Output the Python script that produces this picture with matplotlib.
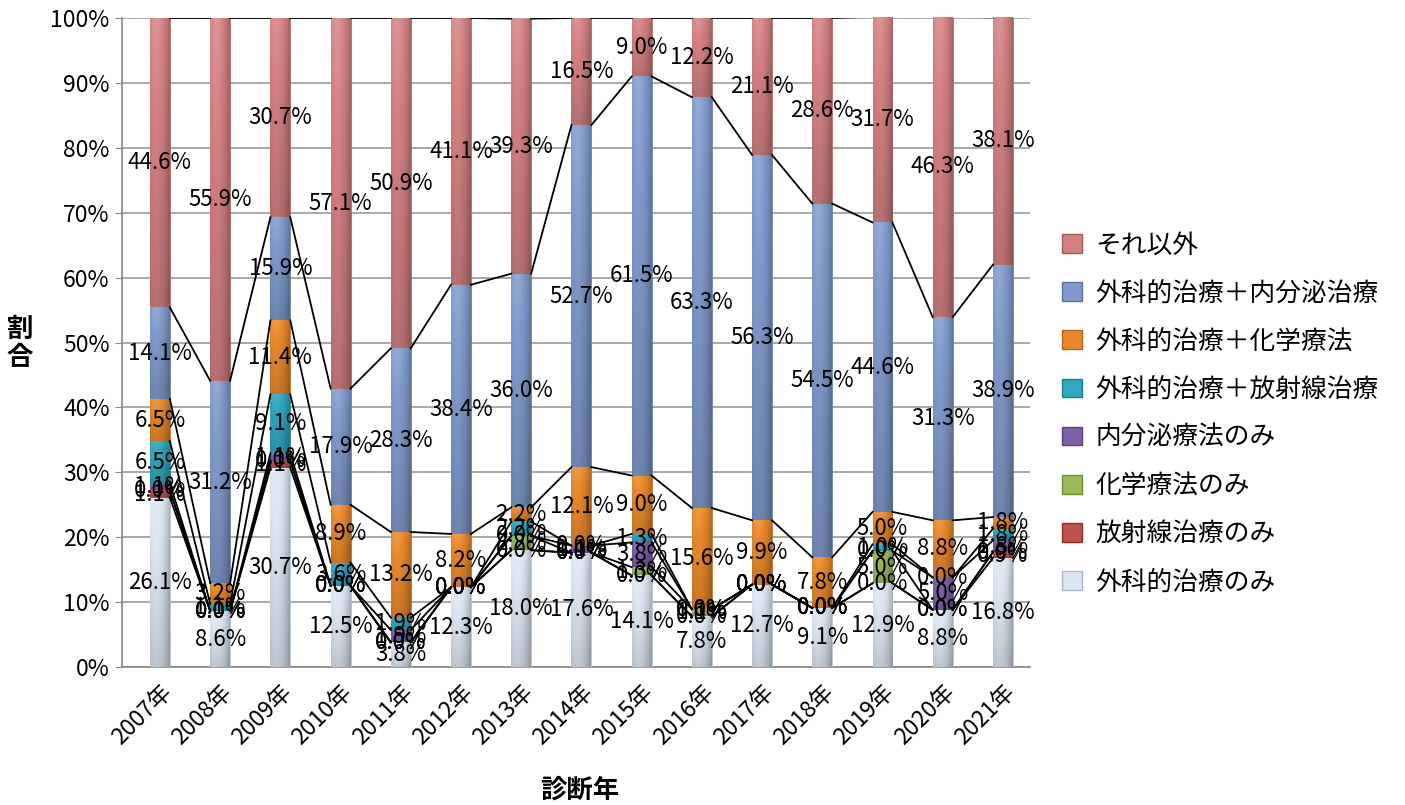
import numpy as np
import matplotlib
matplotlib.use("Agg")
import matplotlib.pyplot as plt
from matplotlib.patches import Patch
from matplotlib.colors import to_rgb

plt.rcParams['font.family'] = ['Noto Sans CJK JP', 'DejaVu Sans']

years = ["2007年", "2008年", "2009年", "2010年", "2011年", "2012年", "2013年", "2014年",
         "2015年", "2016年", "2017年", "2018年", "2019年", "2020年", "2021年"]

series_names = ["外科的治療のみ", "放射線治療のみ", "化学療法のみ", "内分泌療法のみ",
                "外科的治療＋放射線治療", "外科的治療＋化学療法", "外科的治療＋内分泌治療", "それ以外"]

surgery_only = [26.1, 8.6, 30.7, 12.5, 3.8, 12.3, 18.0, 17.6, 14.1, 7.8, 12.7, 9.1, 12.9, 8.8, 16.8]
radiation_only = [1.1, 0.0, 1.1, 0.0, 0.0, 0.0, 0.0, 0.0, 0.0, 0.0, 0.0, 0.0, 0.0, 0.0, 0.9]
chemo_only = [0.0, 0.0, 0.0, 0.0, 0.0, 0.0, 2.2, 0.0, 1.3, 1.1, 0.0, 0.0, 5.0, 0.0, 0.0]
endocrine_only = [1.1, 0.0, 1.1, 0.0, 1.9, 0.0, 0.0, 1.1, 3.8, 0.0, 0.0, 0.0, 0.0, 5.0, 1.8]
surg_radiation = [6.5, 1.1, 9.1, 3.6, 1.9, 0.0, 2.2, 0.0, 1.3, 0.0, 0.0, 0.0, 1.0, 0.0, 1.8]
surg_chemo = [6.5, 3.2, 11.4, 8.9, 13.2, 8.2, 2.2, 12.1, 9.0, 15.6, 9.9, 7.8, 5.0, 8.8, 1.8]
surg_endocrine = [14.1, 31.2, 15.9, 17.9, 28.3, 38.4, 36.0, 52.7, 61.5, 63.3, 56.3, 54.5, 44.6, 31.3, 38.9]
others = [44.6, 55.9, 30.7, 57.1, 50.9, 41.1, 39.3, 16.5, 9.0, 12.2, 21.1, 28.6, 31.7, 46.3, 38.1]

data = [surgery_only, radiation_only, chemo_only, endocrine_only,
        surg_radiation, surg_chemo, surg_endocrine, others]
colors = ["#DCE6F2", "#C0504D", "#9BBB59", "#7E5FA8", "#2FA7BF", "#E8892B", "#7F9ACB", "#D48181"]
edge_colors = ["#A9B6C8", "#8E2F2C", "#6E8A35", "#5A3F80", "#1E7C8E", "#B5611A", "#5A72A0", "#A55A5A"]

fig = plt.figure(figsize=(14.05, 8.05), dpi=100)
ax = fig.add_axes([122/1405, 1-667/805, (1030-122)/1405, (667-18)/805])

x = np.arange(len(years))
width = 0.33

# shading grid for a cylinder-like look
hh = np.linspace(0, 1, 24)
vv = np.linspace(0, 1, 40)
fh = 1.06 - 0.55 * (hh - 0.3) ** 2
fv = 1.0 - 0.18 * vv  # top lighter, bottom darker (row 0 = bottom)
fv = fv[::-1]


def shade(rgb, f):
    rgb = np.array(rgb)
    out = np.where(f[..., None] >= 1, rgb + (1 - rgb) * (f[..., None] - 1) * 2.5,
                   rgb * f[..., None])
    return np.clip(out, 0, 1)


F = fv[:, None] * fh[None, :]

bottom = np.zeros(len(years))
cum_tops = []
for vals, c, ec in zip(data, colors, edge_colors):
    v = np.array(vals, dtype=float)
    bars = ax.bar(x, v, width, bottom=bottom, color=c, edgecolor=ec, linewidth=0.5, zorder=3)
    img = shade(to_rgb(c), F)
    for rect in bars:
        if rect.get_height() <= 0:
            continue
        x0, y0 = rect.get_x(), rect.get_y()
        im = ax.imshow(img, extent=[x0, x0 + rect.get_width(), y0, y0 + rect.get_height()],
                       aspect="auto", origin="lower", zorder=3.5, interpolation="bilinear")
        im.set_clip_path(rect)
    for xi, b, h in zip(x, bottom, v):
        ax.text(xi, b + h / 2, f"{h:.1f}%", ha="center", va="center",
                fontsize=16, color="black", zorder=6)
    bottom = bottom + v
    cum_tops.append(bottom.copy())

# series lines connecting segment tops between adjacent bars
for tops in cum_tops:
    for i in range(len(years) - 1):
        ax.plot([x[i] + width / 2, x[i + 1] - width / 2], [tops[i], tops[i + 1]],
                color="black", linewidth=1.3, zorder=5)

ax.set_xlim(-0.63, len(years) - 1 + 0.45)
ax.set_ylim(0, 100)
ax.set_yticks(np.arange(0, 101, 10))
ax.set_yticklabels([f"{t}%" for t in range(0, 101, 10)], fontsize=16.5)
ax.set_xticks(x)
ax.set_xticklabels(years, rotation=45, ha="right", rotation_mode="anchor", fontsize=16.5)
ax.tick_params(axis="x", length=0, pad=10)
ax.tick_params(axis="y", length=5, color="#888888", pad=4)
ax.yaxis.grid(True, color="#999999", linewidth=1.2, zorder=0)
ax.set_axisbelow(True)
for s in ["top", "right"]:
    ax.spines[s].set_visible(False)
ax.spines["left"].set_color("#888888")
ax.spines["left"].set_linewidth(1.2)
ax.spines["bottom"].set_color("#888888")
ax.spines["bottom"].set_linewidth(1.2)

fig.text(580/1405, 1-790/805, "診断年", fontsize=19, fontweight="bold", ha="center", va="center")
fig.text(20/1405, 1-343/805, "割\n合", fontsize=19, fontweight="bold", ha="center",
         va="center", linespacing=1.05)

handles = [Patch(facecolor=c, edgecolor=ec) for c, ec in zip(colors, edge_colors)]
fig.legend(handles[::-1], series_names[::-1], loc="center left",
           bbox_to_anchor=(1052/1405, 1-414/805), frameon=False, fontsize=18.5,
           labelspacing=0.86, handlelength=0.75, handleheight=0.75, handletextpad=0.55,
           borderaxespad=0)

fig.savefig("out.png", dpi=100)
